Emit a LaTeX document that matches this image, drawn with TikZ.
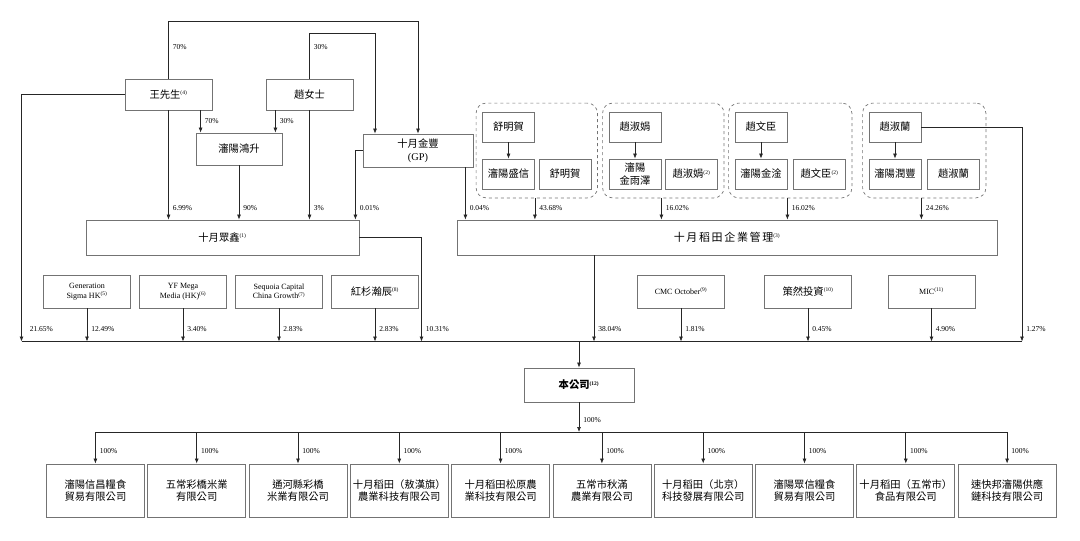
\documentclass[tikz,border=0pt]{standalone}
\usepackage{fontspec}
\setmainfont{Liberation Serif}
\newfontfamily\cjk{Noto Sans CJK TC}
\usetikzlibrary{arrows.meta,fit,positioning}
\newcommand{\fn}[1]{\textsuperscript{\rmfamily\fontsize{5.5}{5.5}\selectfont(#1)}}

\begin{document}
\begin{tikzpicture}[x=1pt,y=-1pt,
		>={Latex[length=5pt,width=4pt]},
		box/.style={rectangle, draw=black!55, line width=0.8pt, inner sep=1pt, align=center, font=\cjk\fontsize{10.3}{12.5}\selectfont},
		enbox/.style={box, font=\fontsize{8}{9.5}\selectfont, minimum width=87, minimum height=33},
		sbox/.style={box, minimum width=52, minimum height=30},
		grp/.style={rectangle, draw=black!55, dashed, line width=0.7pt, rounded corners=10pt, inner xsep=6pt, inner ysep=8.5pt},
		link/.style={draw=black!85, line width=0.7pt},
		pct/.style={font=\fontsize{7.5}{8}\selectfont, anchor=west, inner sep=1pt, xshift=3pt},
		tip/.style={pct, pos=1, yshift=12pt}]

		\useasboundingbox (0,0) rectangle (1080,541);

		% owners on the left
		\node[box, minimum width=87, minimum height=31] (wang) at (168.5,94.5) {王先生\fn{4}};
		\node[box, minimum width=87, minimum height=31] (zhao) at (309.5,94.5) {趙女士};
		\node[box, minimum width=86, minimum height=32] (hongsheng) at (239,149) {瀋陽鴻升};
		\node[box, minimum width=110, minimum height=33] (jinfeng) at (418,150.5) {十月金豐\\{\rmfamily (GP)}};
		\node[box, minimum width=273, minimum height=35] (zhongxin) at (222.5,237.5) {十月眾鑫\fn{1}};
		\node[box, minimum width=540, minimum height=35, font=\cjk\fontsize{11}{13}\selectfont\addfontfeature{LetterSpace=15}] (daotian) at (727,237.5) {十月稻田企業管理\fn{3}};

		\draw[link,->] (wang.north) -- node[pct, pos=0.55] (l1) {70\%} ++(0,-57) -| (jinfeng.north);
		\draw[link,->] (zhao.north) -- node[pct, pos=0.7] (l2) {30\%} ++(0,-45) -| ([xshift=-43pt]jinfeng.north);
		\coordinate (hsL) at ([xshift=5pt]hongsheng.north west);
		\coordinate (hsR) at ([xshift=-7pt]hongsheng.north east);
		\draw[link,->] (wang.south -| hsL) -- (hsL) node[tip] (l3) {70\%};
		\draw[link,->] (zhao.south -| hsR) -- (hsR) node[tip] (l4) {30\%};
		\foreach \n/\p in {wang/6.99, hongsheng/90, zhao/3}
			\draw[link,->] (\n) -- (\n |- zhongxin.north) node[tip] (l\n) {\p\%};
		\coordinate (zxR) at ([xshift=-4pt]zhongxin.north east);
		\draw[link,->] (jinfeng.west) -| (zxR) node[tip] (l5) {0.01\%};
		\coordinate (jfR) at ([xshift=-8pt]jinfeng.south east);
		\draw[link,->] (jfR) -- (jfR |- daotian.north) node[tip] (l6) {0.04\%};

		% family groups
		\node[sbox] (shu1) at (508.5,127) {舒明賀};
		\node[sbox] (shengxin) at (508.5,174) {瀋陽盛信};
		\node[sbox] (shu2) at (565,174) {舒明賀};
		\node[sbox] (juan1) at (635,127) {趙淑娟};
		\node[sbox] (jinyuze) at (635,174) {瀋陽\\金雨澤};
		\node[sbox] (juan2) at (691.5,174) {趙淑娟\fn{2}};
		\node[sbox] (wenchen1) at (761,127) {趙文臣};
		\node[sbox] (jingan) at (761,174) {瀋陽金淦};
		\node[sbox] (wenchen2) at (819.5,174) {趙文臣\fn{2}};
		\node[sbox] (lan1) at (895,127) {趙淑蘭};
		\node[sbox] (runfeng) at (895,174) {瀋陽潤豐};
		\node[sbox] (lan2) at (953.5,174) {趙淑蘭};
		\node[grp, fit=(shu1)(shengxin)(shu2)] (g1) {};
		\node[grp, fit=(juan1)(jinyuze)(juan2)] (g2) {};
		\node[grp, fit=(wenchen1)(jingan)(wenchen2)] (g3) {};
		\node[grp, fit=(lan1)(runfeng)(lan2)] (g4) {};
		\foreach \a/\b in {shu1/shengxin, juan1/jinyuze, wenchen1/jingan, lan1/runfeng}
			\draw[link,->] (\a) -- (\b);
		\foreach \g/\b/\p in {g1/shengxin/43.68, g2/jinyuze/16.02, g3/jingan/16.02, g4/runfeng/24.26}
			\draw[link,->] (\g.south -| \b.east) -- (\b.east |- daotian.north) node[tip] (l\g) {\p\%};

		% other shareholders
		\node[enbox] (gen) at (87,291.5) {Generation\\Sigma HK\fn{5}};
		\node[enbox] (yf) at (183,291.5) {YF Mega\\Media (HK)\fn{6}};
		\node[enbox] (seq) at (279,291.5) {Sequoia Capital\\China Growth\fn{7}};
		\node[box, minimum width=87, minimum height=33] (hs) at (375,291.5) {紅杉瀚辰\fn{8}};
		\node[enbox] (cmc) at (681,291.5) {CMC October\fn{9}};
		\node[box, minimum width=87, minimum height=33] (ceran) at (808,291.5) {策然投資\fn{10}};
		\node[enbox] (mic) at (931.5,291.5) {MIC\fn{11}};

		\coordinate (busL) at (21.5,341.5);
		\coordinate (busM) at (421.5,341.5);
		\coordinate (busD) at (594,341.5);
		\coordinate (busR) at (1022,341.5);
		\draw[link] (busL) -- (busR);
		\draw[link,->] (wang.west) -| (busL) node[tip, xshift=4pt] (l7) {21.65\%};
		\draw[link,->] (zhongxin.east) -| (busM) node[tip] (l8) {10.31\%};
		\draw[link,->] (daotian.south -| busD) -- (busD) node[tip] (l9) {38.04\%};
		\draw[link,->] (lan1.east) -| (busR) node[tip] (l10) {1.27\%};
		\foreach \n/\p in {gen/12.49, yf/3.40, seq/2.83, hs/2.83, cmc/1.81, ceran/0.45, mic/4.90}
			\draw[link,->] (\n) -- (\n |- busL) node[tip] (l\n) {\p\%};

		% the company and its subsidiaries
		\node[box, font=\cjk\bfseries\fontsize{10.3}{12}\selectfont, minimum width=110, minimum height=34] (company) at (579,385) {本公司\fn{12}};
		\draw[link,->] (company |- busL) -- (company);
		\coordinate (cbus) at (579,432);
		\draw[link,->] (company) -- (cbus) node[tip] (l11) {100\%};

		\foreach \t [count=\i from 0] in {瀋陽信昌糧食\\貿易有限公司, 五常彩橋米業\\有限公司, 通河縣彩橋\\米業有限公司, 十月稻田（敖漢旗）\\農業科技有限公司, 十月稻田松原農\\業科技有限公司, 五常市秋滿\\農業有限公司, 十月稻田（北京）\\科技發展有限公司, 瀋陽眾信糧食\\貿易有限公司, 十月稻田（五常市）\\食品有限公司, 速快邦瀋陽供應\\鏈科技有限公司}
			\node[box, minimum width=98, minimum height=53.5] (c\i) at (95.4+101.3*\i,490.7) {\t};
		\draw[link] (c0 |- cbus) -- (c9 |- cbus);
		\foreach \i in {0,...,9}
			\draw[link,->] (c\i |- cbus) -- (c\i) node[tip] (lc\i) {100\%};

\end{tikzpicture}
\end{document}
